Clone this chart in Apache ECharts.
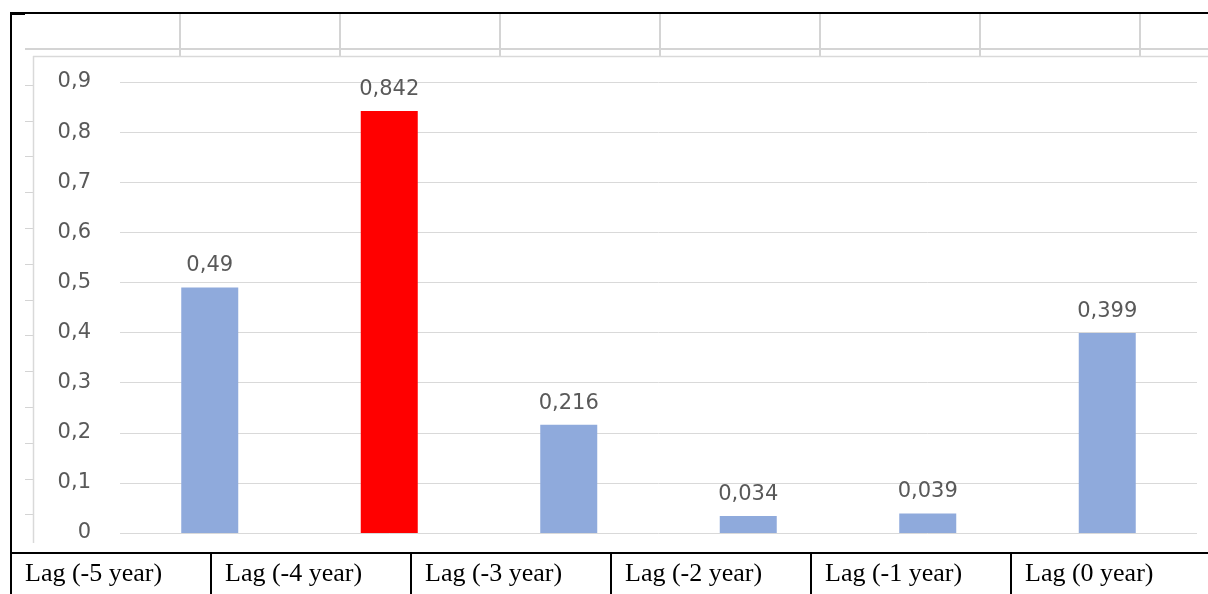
<!DOCTYPE html>
<html>
<head>
<meta charset="utf-8">
<script src="https://cdn.jsdelivr.net/npm/echarts@6/dist/echarts.min.js"></script>
<style>
html,body{margin:0;padding:0;background:#fff;}
#c{width:1208px;height:594px;}
</style>
</head>
<body>
<div id="c"></div>
<script>
// ---- data ----
var categories = ['Lag (-5 year)', 'Lag (-4 year)', 'Lag (-3 year)', 'Lag (-2 year)', 'Lag (-1 year)', 'Lag (0 year)'];
var values = [0.49, 0.842, 0.216, 0.034, 0.039, 0.399];
var highlightIndex = 1;
var yMin = 0, yMax = 0.9, yInterval = 0.1;

// ---- styles ----
var BLUE = '#8FAADC', RED = '#FF0000', TXT = '#595959', GRID = '#d9d9d9', SHEET = '#d4d4d4';
function comma(v) { return String(v).replace('.', ','); }

var chart = echarts.init(document.getElementById('c'), null, {renderer: 'canvas'});

// decorative spreadsheet / frame lines
var gfx = [];
function line(x1, y1, x2, y2, color, w, z) {
  gfx.push({type: 'line', z: z || 0, silent: true,
    shape: {x1: x1, y1: y1, x2: x2, y2: y2},
    style: {stroke: color, lineWidth: w}});
}
[180, 340, 500, 660, 820, 980, 1140].forEach(function (x) { line(x, 14, x, 56, SHEET, 2); });
line(25, 49, 1208, 49, SHEET, 2);
for (var k = 1; k <= 13; k++) { var yy = Math.round(49 + 35.8 * k) + 0.5; line(25, yy, 33, yy, SHEET, 1); }
line(33, 56.5, 1208, 56.5, GRID, 1.5);
line(33.5, 56, 33.5, 543, GRID, 1.5);
line(11, 13, 11, 594, '#000', 2, 10);
line(10, 13, 1208, 13, '#000', 2, 10);
line(10, 13.5, 25, 13.5, '#000', 3, 10);

var option = {
  backgroundColor: '#fff',
  animation: false,
  graphic: gfx,
  grid: [
    {left: 120, right: 11, top: 82, bottom: 61, outerBoundsMode: 'none', containLabel: false},
    {left: 11, width: 1200, top: 553, height: 41, outerBoundsMode: 'none', containLabel: false}
  ],
  xAxis: [
    {type: 'category', data: categories, gridIndex: 0,
      axisLine: {show: false}, axisTick: {show: false}, axisLabel: {show: false}, splitLine: {show: false}},
    {type: 'category', data: categories, gridIndex: 1, position: 'top',
      axisLine: {show: true, onZero: false, lineStyle: {color: '#000', width: 2}},
      axisTick: {show: false},
      splitLine: {show: true, interval: 0, lineStyle: {color: '#000', width: 2}},
      axisLabel: {show: true, inside: true, interval: 0, margin: 8,
        color: '#000', fontFamily: 'Liberation Serif', fontSize: 26,
        formatter: function (v) { return '{a|' + v + '}'; },
        rich: {a: {width: 172, align: 'left', color: '#000', fontFamily: 'Liberation Serif', fontSize: 26}}}}
  ],
  yAxis: [
    {type: 'value', gridIndex: 0, min: yMin, max: yMax, interval: yInterval,
      axisLine: {show: false}, axisTick: {show: false},
      splitLine: {lineStyle: {color: GRID, width: 1}},
      axisLabel: {margin: 29, color: TXT, fontFamily: 'DejaVu Sans', fontSize: 21, formatter: comma}},
    {type: 'value', gridIndex: 1, show: false}
  ],
  series: [{
    type: 'bar', xAxisIndex: 0, yAxisIndex: 0, data: values,
    barWidth: 57,
    itemStyle: {color: function (p) { return p.dataIndex === highlightIndex ? RED : BLUE; }},
    label: {show: true, position: 'top', distance: 11, color: TXT,
      fontFamily: 'DejaVu Sans', fontSize: 21,
      formatter: function (p) { return comma(p.value); }}
  }]
};
chart.setOption(option);
</script>
</body>
</html>
